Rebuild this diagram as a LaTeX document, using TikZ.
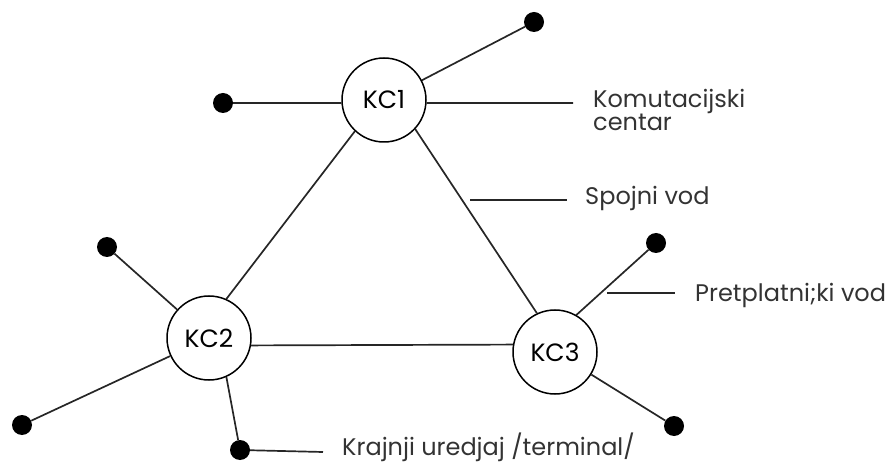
\documentclass[tikz,border=0pt]{standalone}
\usepackage{fontspec}
\setmainfont{Poppins}
\begin{document}
\begin{tikzpicture}[x=1pt,y=-1pt,
  kc/.style={circle,draw=black,line width=1.5pt,minimum size=84pt,inner sep=0pt,fill=white,font=\fontsize{25}{28}\selectfont},
  term/.style={circle,fill=black,minimum size=20pt,inner sep=0pt},
  wire/.style={line width=1.7pt,draw=black!85},
  lbl/.style={anchor=base west,inner sep=0pt,text=black!80,font=\fontsize{24}{26}\selectfont}]
\useasboundingbox (0,0) rectangle (889,462);
% switching centres
\node[kc] (KC1) at (384,100) {KC1};
\node[kc] (KC2) at (209,338) {KC2};
\node[kc] (KC3) at (555,352) {KC3};
% terminals
\node[term] (t1) at (534,22) {};
\node[term] (t2) at (223,103) {};
\node[term] (t3) at (107,247) {};
\node[term] (t4) at (22,425) {};
\node[term] (t5) at (240,450) {};
\node[term] (t6) at (656,243) {};
\node[term] (t7) at (674,426) {};
% trunk lines
\draw[wire] (KC1.227) -- (KC2.66);
\draw[wire] (KC1.317) -- (KC3.115);
\draw[wire] (KC2.350) -- (KC3.170);
% subscriber lines
\draw[wire] (t2) -- (KC1.184);
\draw[wire] (KC1) -- (t1);
\draw[wire] (KC2) -- (t3);
\draw[wire] (KC2) -- (t4);
\draw[wire] (KC2.294) -- (t5);
\draw[wire] (KC3.60) -- (t6);
\draw[wire] (KC3) -- (t7);
% label leaders
\coordinate (c1) at (573,103);
\coordinate (s0) at (470,200);
\coordinate (s1) at (567,200);
\coordinate (p0) at (607,293);
\coordinate (p1) at (675,293);
\coordinate (k1) at (323,452);
\draw[wire] (KC1.356) -- (c1);
\draw[wire] (s0) -- (s1);
\draw[wire] (p0) -- (p1);
\draw[wire] (t5) -- (k1);
% labels
\node[lbl] (lk1) at (593,108) {Komutacijski};
\node[lbl] (lk2) at (593,131) {centar};
\node[lbl] (ls) at (585,205) {Spojni vod};
\node[lbl] (lp) at (695,302) {Pretplatni;ki vod};
\node[lbl] (lt) at (342,455) {Krajnji uredjaj /terminal/};
\end{tikzpicture}
\end{document}
